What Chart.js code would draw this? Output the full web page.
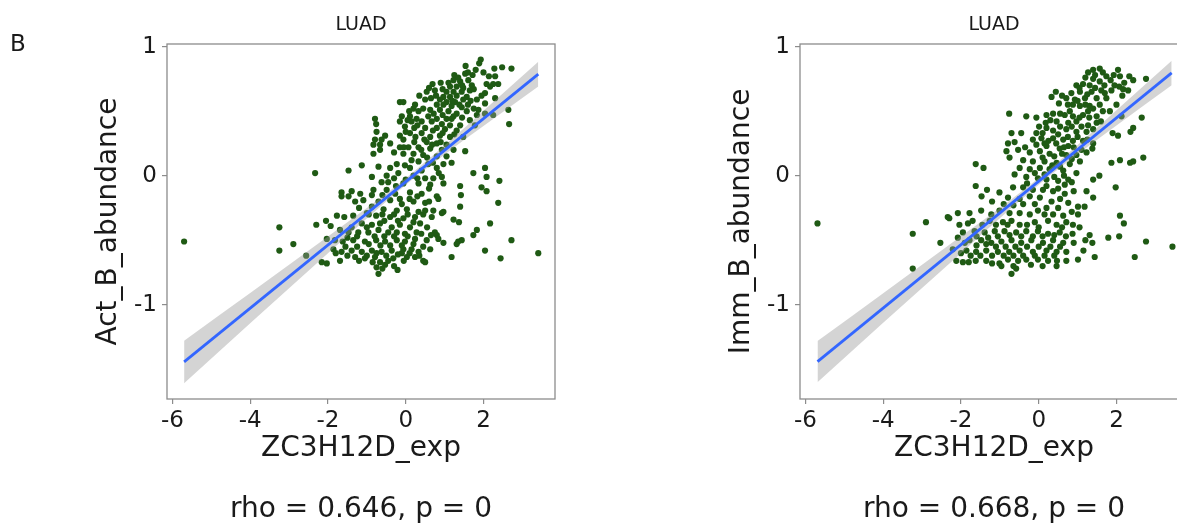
<!DOCTYPE html>
<html><head><meta charset="utf-8">
<script src="https://cdn.jsdelivr.net/npm/chart.js@4.4.1/dist/chart.umd.min.js"></script>
<style>
html,body{margin:0;padding:0;background:#fff;}
body{width:1177px;height:525px;overflow:hidden;position:relative;font-family:'DejaVu Sans',sans-serif;color:#1a1a1a;}
.panel{position:absolute;top:0;width:633px;height:525px;}
.txt{position:absolute;white-space:nowrap;transform:translate(-50%,-50%);line-height:1;}
</style></head><body>
<div class="panel" style="left:0"><canvas id="c1"></canvas></div>
<div class="panel" style="left:633px"><canvas id="c2"></canvas></div>
<div id="texts"></div>
<script>
// ---------------- data ----------------
const panelLabel = 'B';
const panelTitles = ['LUAD', 'LUAD'];
const xTitle = 'ZC3H12D_exp';
const yTitles = ['Act_B_abundance', 'Imm_B_abundance'];
const statTexts = ['rho = 0.646, p = 0', 'rho = 0.668, p = 0'];
const xTicks = [-6, -4, -2, 0, 2];
const yTicks = [-1, 0, 1];

// Act_B_abundance vs ZC3H12D_exp
const actPoints = [
[-5.70,-0.51],[-3.25,-0.40],[-3.25,-0.58],[-2.89,-0.53],[-2.56,-0.62],[-2.33,0.02],[-2.30,-0.38],[-2.05,-0.35],[-1.93,-0.39],
[1.93,0.90],[1.89,0.87],[1.54,0.85],[2.48,0.84],[2.72,0.83],[2.28,0.83],[1.25,0.78],[1.53,0.79],[1.72,0.78],[2.00,0.80],[2.14,0.77],[2.30,0.77],
[1.23,0.74],[1.40,0.73],[1.61,0.74],[2.08,0.71],[2.25,0.71],[2.38,0.71],[0.90,0.72],[0.69,0.71],[1.14,0.69],[1.31,0.69],[1.48,0.68],[1.70,0.70],[2.17,0.69],
[0.54,0.65],[1.05,0.65],[1.23,0.65],[1.44,0.65],[1.65,0.66],[2.04,0.64],[0.97,0.61],[1.14,0.61],[1.31,0.62],[1.57,0.61],[1.83,0.59],[2.30,0.60],
[0.35,0.62],[0.50,0.59],[0.88,0.59],[1.05,0.57],[1.27,0.57],[1.48,0.59],[1.67,0.58],[-0.15,0.57],[-0.06,0.57],[0.24,0.55],[0.80,0.55],[0.97,0.55],
[1.18,0.54],[1.44,0.53],[2.04,0.56],[1.87,0.51],[0.09,0.50],[0.33,0.50],[0.63,0.51],[0.88,0.51],[1.10,0.50],[1.31,0.48],[1.57,0.50],[1.83,0.47],
[2.04,0.48],[2.64,0.51],[2.25,0.47],[-0.10,0.46],[0.11,0.46],[0.28,0.44],[0.58,0.46],[0.80,0.44],[1.05,0.44],[1.23,0.46],[-0.79,0.44],[-0.76,0.40],
[-0.15,0.42],[0.15,0.42],[0.41,0.42],[0.67,0.42],[0.93,0.40],[1.14,0.39],[1.40,0.39],[1.78,0.39],[2.66,0.40],[-0.02,0.38],[0.22,0.37],[0.80,0.37],
[1.01,0.36],[1.31,0.35],[-0.75,0.34],[-0.53,0.31],[-0.15,0.31],[0.11,0.33],[0.41,0.33],[0.63,0.30],[0.88,0.31],[1.14,0.30],[1.48,0.30],[-0.79,0.28],
[-0.62,0.28],[-0.06,0.28],[0.22,0.26],[0.54,0.26],[0.80,0.25],[1.05,0.24],[-0.66,0.24],[-0.83,0.24],[-0.15,0.22],[0.07,0.22],[0.33,0.22],[0.63,0.21],
[0.93,0.20],[1.23,0.20],[1.53,0.19],[-0.66,0.20],[-0.83,0.17],[-0.06,0.17],[0.20,0.17],[0.45,0.16],[0.80,0.15],[1.05,0.15],[-0.23,0.09],[-0.02,0.08],
[0.33,0.11],[0.58,0.09],[0.97,0.09],[1.18,0.10],[-1.13,0.08],[-0.70,0.07],[-0.40,0.06],[0.11,0.06],[0.41,0.04],[0.80,0.06],[-1.47,0.04],[-0.87,-0.01],
[-0.49,0.00],[-0.19,0.02],[0.20,0.00],[0.50,-0.02],[0.71,-0.02],[0.93,-0.01],[1.74,0.02],[2.04,0.06],[2.08,-0.01],[2.41,-0.04],[-0.62,-0.05],[-0.45,-0.05],
[-0.06,-0.06],[0.33,-0.06],[0.63,-0.07],[0.97,-0.06],[1.40,-0.08],[1.95,-0.09],[2.08,-0.12],[-0.83,-0.11],[-1.65,-0.13],[-1.39,-0.12],[-1.17,-0.14],
[-0.87,-0.15],[-0.49,-0.11],[-0.27,-0.14],[0.11,-0.13],[0.41,-0.14],[0.80,-0.16],[0.84,-0.18],[1.42,-0.15],[-1.65,-0.16],[-1.47,-0.16],[-1.09,-0.19],
[-0.70,-0.20],[-0.40,-0.19],[-0.10,-0.22],[0.20,-0.20],[0.50,-0.21],[1.40,-0.24],[2.38,-0.21],[-0.87,-0.24],[-0.57,-0.26],[-0.23,-0.27],[0.03,-0.26],
[0.33,-0.28],[0.71,-0.27],[0.93,-0.29],[0.97,-0.28],[-1.77,-0.31],[-1.35,-0.31],[-1.00,-0.29],[-0.76,-0.31],[-0.40,-0.32],[-0.06,-0.33],[0.24,-0.32],
[0.67,-0.32],[1.23,-0.34],[-1.58,-0.32],[-1.39,-0.40],[-1.13,-0.37],[-0.87,-0.38],[-0.66,-0.37],[-0.36,-0.40],[-0.15,-0.38],[0.11,-0.40],[0.37,-0.37],
[2.17,-0.37],[1.37,-0.36],[-1.69,-0.42],[-1.47,-0.44],[-1.22,-0.44],[-0.96,-0.44],[-0.70,-0.42],[-0.45,-0.44],[-0.23,-0.44],[-0.02,-0.45],[0.28,-0.44],
[0.75,-0.44],[0.80,-0.46],[1.83,-0.42],[1.74,-0.46],[-2.03,-0.49],[-1.82,-0.50],[-1.62,-0.51],[-1.35,-0.50],[-1.05,-0.51],[-0.76,-0.50],[-0.53,-0.51],
[-0.23,-0.50],[-0.02,-0.51],[0.24,-0.49],[0.54,-0.50],[0.84,-0.49],[0.97,-0.52],[1.35,-0.51],[1.44,-0.50],[2.72,-0.50],[-1.86,-0.57],[-1.65,-0.59],
[-1.39,-0.58],[-1.13,-0.59],[-0.87,-0.58],[-0.62,-0.59],[-0.36,-0.58],[-0.06,-0.57],[0.15,-0.57],[0.33,-0.59],[0.63,-0.57],[1.31,-0.53],[2.04,-0.58],
[3.41,-0.60],[-2.16,-0.67],[-2.03,-0.68],[-1.69,-0.66],[-1.30,-0.63],[-1.05,-0.64],[-0.79,-0.63],[-0.66,-0.67],[-0.32,-0.64],[-0.10,-0.60],[0.03,-0.63],
[0.24,-0.63],[0.45,-0.66],[0.50,-0.67],[1.18,-0.63],[2.44,-0.64],[-0.75,-0.71],[-0.53,-0.69],[-0.70,-0.76],[-0.21,-0.73],
[0.60,0.68],[0.75,0.66],[0.95,0.67],[1.10,0.72],[1.35,0.76],[1.60,0.80],[1.80,0.82],[1.45,0.70],[1.75,0.67],[1.95,0.62],[0.65,0.60],[0.78,0.62],
[1.20,0.58],[1.38,0.55],[1.60,0.55],[1.75,0.52],[0.45,0.52],[0.72,0.48],[0.95,0.47],[1.18,0.44],[1.45,0.45],[1.65,0.43],[0.20,0.52],[0.05,0.43],
[0.30,0.39],[0.50,0.37],[0.70,0.35],[0.95,0.33],[1.25,0.32],[0.00,0.34],[0.25,0.30],[0.48,0.28],[0.68,0.24],[0.90,0.26],[-0.05,0.22],[0.40,0.20],
[0.15,0.12],[0.55,0.14],[0.70,0.10],[-0.30,0.18],[-0.40,0.25],[0.85,0.02],[0.30,-0.02],[-0.30,-0.02],[0.00,-0.03],
[-0.95,-0.30],[-0.60,-0.30],[-0.30,-0.30],[0.05,-0.30],[0.45,-0.30],[-1.20,-0.25],[-0.55,-0.35],[-0.20,-0.35],[0.20,-0.36],[0.55,-0.40],[-1.00,-0.40],
[-0.80,-0.47],[-0.55,-0.47],[-0.30,-0.47],[0.05,-0.47],[0.40,-0.45],[0.65,-0.46],[-1.25,-0.47],[-1.50,-0.48],[-0.95,-0.53],[-0.65,-0.54],[-0.40,-0.54],
[-0.10,-0.54],[0.20,-0.53],[0.45,-0.55],[-1.25,-0.55],[-1.55,-0.55],[-1.80,-0.60],[-0.75,-0.60],[-0.50,-0.62],[-0.20,-0.61],[0.10,-0.60],[-1.00,-0.62],
[-0.85,-0.67],[-0.45,-0.66],[-0.60,-0.72],[-0.30,-0.70],[-1.20,-0.66],[-1.50,-0.62],[-0.05,-0.66],[0.35,-0.62],[-0.15,-0.18],[0.30,-0.16],[0.60,-0.20],
[-0.60,-0.15],[-1.30,-0.20],[0.60,-0.10],[-0.25,-0.08],[0.10,-0.18],[0.50,-0.27]
];
const actFitX = [-5.70, 3.41];
const actFitY = [-1.443, 0.787];
const actBandX  = [-5.70, -4.00, -2.00, -1.00, 0.00, 1.00, 2.00, 3.41];
const actBandHi = [-1.278, -0.909, -0.472, -0.251, -0.020, 0.235, 0.503, 0.883];
const actBandLo = [-1.608, -1.144, -0.600, -0.331, -0.072, 0.164, 0.385, 0.691];

// Imm_B_abundance vs ZC3H12D_exp
const immPoints = [
[-5.69,-0.37],[-3.24,-0.45],[-3.24,-0.72],
[1.40,0.82],[1.57,0.83],[1.27,0.80],[2.04,0.82],[1.74,0.77],[1.93,0.78],[2.09,0.77],[2.33,0.77],[2.76,0.75],[2.43,0.74],[1.40,0.75],[1.57,0.73],
[1.14,0.71],[0.97,0.70],[1.31,0.70],[1.69,0.70],[2.07,0.69],[2.17,0.67],[2.30,0.66],[1.61,0.66],[1.87,0.66],[0.44,0.65],[0.84,0.64],[1.06,0.65],
[1.36,0.65],[0.33,0.61],[0.71,0.60],[0.93,0.59],[1.19,0.60],[1.49,0.60],[1.74,0.60],[0.52,0.56],[0.88,0.55],[1.06,0.54],[1.31,0.54],[1.57,0.55],
[1.83,0.50],[1.27,0.50],[-0.76,0.48],[-0.32,0.46],[-0.06,0.45],[0.20,0.47],[0.37,0.48],[0.67,0.47],[0.88,0.46],[1.14,0.47],[1.49,0.46],[2.13,0.46],
[2.65,0.45],[0.18,0.41],[0.46,0.42],[0.76,0.41],[0.97,0.42],[1.27,0.39],[1.49,0.41],[0.01,0.38],[0.20,0.37],[0.37,0.35],[0.71,0.36],[0.97,0.34],
[1.23,0.34],[1.90,0.33],[2.04,0.31],[2.43,0.37],[2.36,0.34],[-0.70,0.33],[-0.45,0.33],[-0.06,0.33],[0.07,0.29],[0.37,0.29],[0.63,0.28],[0.88,0.27],
[1.14,0.27],[1.40,0.25],[-0.79,0.25],[-0.62,0.26],[-0.06,0.24],[0.20,0.23],[0.54,0.21],[0.76,0.23],[1.38,0.21],[-0.83,0.19],[-0.53,0.20],[-0.23,0.18],
[0.03,0.19],[0.28,0.17],[0.71,0.16],[0.97,0.16],[1.23,0.18],[2.69,0.14],[2.43,0.11],[2.35,0.10],[2.09,0.12],[1.87,0.10],[-1.62,0.09],[-1.42,0.06],
[-0.75,0.14],[-0.40,0.12],[-0.15,0.11],[0.15,0.11],[0.46,0.10],[0.80,0.09],[1.06,0.11],[-0.49,0.06],[-0.23,0.05],[0.03,0.06],[0.28,0.05],[0.63,0.04],
[0.97,0.02],[1.40,-0.03],[1.56,0.00],[-0.62,0.01],[-0.32,-0.01],[-0.02,-0.02],[0.20,-0.03],[0.50,-0.04],[0.76,-0.03],[-1.62,-0.08],[-1.33,-0.11],
[-1.47,-0.16],[-1.01,-0.13],[-0.66,-0.09],[-0.40,-0.09],[-0.15,-0.11],[0.11,-0.11],[0.37,-0.12],[0.67,-0.07],[0.67,-0.14],[1.23,-0.12],[1.40,-0.17],
[1.98,-0.09],[-0.79,-0.17],[-0.49,-0.18],[-0.23,-0.16],[0.03,-0.17],[0.33,-0.20],[0.76,-0.21],[1.01,-0.24],[1.18,-0.24],[-2.08,-0.29],[-2.34,-0.32],
[-2.30,-0.33],[-1.78,-0.29],[-1.48,-0.27],[-1.22,-0.30],[-1.01,-0.27],[-0.75,-0.29],[-0.49,-0.29],[-0.23,-0.30],[-0.02,-0.27],[0.15,-0.30],[0.37,-0.30],
[0.63,-0.31],[1.01,-0.30],[2.09,-0.31],[-2.90,-0.36],[-2.04,-0.38],[-1.82,-0.37],[-1.26,-0.35],[-0.92,-0.36],[-0.70,-0.35],[-0.49,-0.38],[-0.10,-0.36],
[0.24,-0.35],[0.46,-0.38],[0.71,-0.36],[0.88,-0.38],[2.19,-0.37],[-1.95,-0.44],[-1.65,-0.43],[-1.39,-0.44],[-1.13,-0.43],[-0.88,-0.43],[-0.58,-0.44],
[-0.32,-0.43],[-0.02,-0.43],[0.24,-0.45],[0.54,-0.44],[0.87,-0.45],[1.31,-0.46],[1.79,-0.48],[2.07,-0.47],[-2.53,-0.52],[-2.08,-0.48],[-1.78,-0.50],
[-1.48,-0.50],[-1.22,-0.52],[-0.96,-0.51],[-0.70,-0.50],[-0.45,-0.52],[-0.19,-0.50],[0.11,-0.52],[0.37,-0.50],[0.63,-0.52],[1.38,-0.52],[2.76,-0.51],
[3.44,-0.55],[-2.21,-0.57],[-1.86,-0.58],[-1.61,-0.59],[-1.35,-0.58],[-1.05,-0.59],[-0.76,-0.59],[-0.49,-0.58],[-0.15,-0.59],[0.20,-0.58],[0.46,-0.59],
[0.71,-0.59],[1.01,-0.65],[1.44,-0.63],[2.47,-0.63],[-2.12,-0.66],[-1.95,-0.67],[-1.62,-0.66],[-1.35,-0.66],[-1.01,-0.68],[-0.79,-0.65],[-0.53,-0.66],
[-0.32,-0.65],[-0.02,-0.65],[0.24,-0.66],[0.47,-0.66],[0.71,-0.66],[-0.96,-0.70],[-0.58,-0.72],[0.46,-0.70],[-0.70,-0.76],
[1.45,0.78],[1.65,0.80],[1.85,0.74],[2.20,0.72],[1.20,0.76],[1.05,0.68],[1.25,0.63],[1.45,0.68],[1.70,0.64],[1.95,0.70],[2.15,0.62],[0.60,0.62],
[0.75,0.55],[1.00,0.58],[1.20,0.55],[1.40,0.52],[1.65,0.50],[2.00,0.55],[0.55,0.48],[0.80,0.50],[1.05,0.45],[1.30,0.45],[1.60,0.42],[0.30,0.43],
[0.55,0.38],[0.85,0.38],[1.10,0.38],[1.40,0.36],[0.10,0.33],[0.50,0.32],[0.75,0.30],[1.00,0.30],[1.25,0.28],[0.25,0.27],[0.45,0.25],[0.65,0.22],
[0.90,0.22],[1.10,0.20],[-0.15,0.28],[0.15,0.25],[0.40,0.15],[0.60,0.17],[0.85,0.13],[-0.35,0.22],[0.10,0.14],[0.35,0.08],[0.55,0.07],[-0.10,0.02],
[0.15,0.01],[0.40,-0.01],[0.65,0.00],[0.85,-0.05],[0.20,-0.08],[0.50,-0.10],[0.90,-0.12],[-0.30,-0.06],
[-1.70,-0.35],[-1.45,-0.38],[-1.10,-0.38],[-0.80,-0.38],[-0.30,-0.38],[0.00,-0.40],[0.60,-0.40],[-1.60,-0.47],[-1.30,-0.48],[-1.05,-0.47],[-0.75,-0.46],
[-0.45,-0.47],[-0.15,-0.47],[0.10,-0.47],[0.40,-0.46],[0.70,-0.47],[-1.90,-0.52],[-1.60,-0.54],[-1.35,-0.53],[-1.10,-0.55],[-0.85,-0.55],[-0.60,-0.55],
[-0.30,-0.55],[0.00,-0.55],[0.30,-0.55],[0.55,-0.55],[-2.00,-0.60],[-1.75,-0.62],[-1.50,-0.62],[-1.20,-0.62],[-0.90,-0.62],[-0.65,-0.62],[-0.40,-0.62],
[-0.10,-0.62],[0.15,-0.62],[0.40,-0.62],[-1.80,-0.67],[-1.20,-0.68],[-0.65,-0.70],[-0.20,-0.69],[0.10,-0.70],[-0.40,-0.22],[-0.10,-0.22],[0.20,-0.25],
[0.50,-0.25],[-0.65,-0.23],[-1.20,-0.20],[-0.90,-0.22],[0.55,-0.18],[0.85,-0.28],[1.05,-0.40],[1.20,-0.50],[1.15,-0.58],[0.90,-0.52]
];
const immFitX = [-5.69, 3.42];
const immFitY = [-1.440, 0.796];
const immBandX  = [-5.69, -4.00, -2.00, -1.00, 0.00, 1.00, 2.00, 3.42];
const immBandHi = [-1.280, -0.910, -0.470, -0.250, -0.018, 0.238, 0.506, 0.890];
const immBandLo = [-1.600, -1.140, -0.600, -0.330, -0.070, 0.166, 0.388, 0.700];

// ---------------- drawing ----------------
Chart.defaults.font.family = "'DejaVu Sans', sans-serif";
Chart.defaults.color = '#1a1a1a';
const axisGray = '#8c8c8c';

const framePlugin = {
  id: 'frame',
  afterDatasetsDraw(chart) {
    const {ctx, chartArea: a} = chart;
    ctx.save();
    ctx.strokeStyle = axisGray;
    ctx.lineWidth = 1.3;
    ctx.strokeRect(a.left, a.top, a.right - a.left, a.bottom - a.top);
    ctx.restore();
  }
};

const xy = (xs, ys) => xs.map((x, i) => ({x: x, y: ys[i]}));

function makeChart(id, points, fitX, fitY, bandX, bandHi, bandLo, yTitle) {
  return new Chart(document.getElementById(id), {
    type: 'scatter',
    data: {
      datasets: [
        {type: 'line', data: xy(fitX, fitY), borderColor: '#3366ff', borderWidth: 2.8,
         pointRadius: 0, fill: false, order: 0},
        {type: 'line', data: xy(bandX, bandHi), borderColor: 'rgba(0,0,0,0)', borderWidth: 0,
         pointRadius: 0, fill: '+1', backgroundColor: 'rgba(153,153,153,0.42)',
         cubicInterpolationMode: 'monotone', order: 1},
        {type: 'line', data: xy(bandX, bandLo), borderColor: 'rgba(0,0,0,0)', borderWidth: 0,
         pointRadius: 0, fill: false, cubicInterpolationMode: 'monotone', order: 1},
        {type: 'scatter', data: points.map(p => ({x: p[0], y: p[1]})),
         backgroundColor: '#1f5a14', borderWidth: 0, pointRadius: 3.1, order: 2}
      ]
    },
    options: {
      responsive: true, maintainAspectRatio: false, devicePixelRatio: 1, animation: false,
      layout: {padding: {left: 0, top: 44, right: 78, bottom: 0}},
      plugins: {legend: {display: false}, tooltip: {enabled: false}, title: {display: false}},
      scales: {
        x: {
          type: 'linear', min: -6.14, max: 3.84,
          afterBuildTicks: s => { s.ticks = xTicks.map(v => ({value: v})); },
          afterFit: s => { s.height = 126; },
          grid: {drawOnChartArea: false, drawTicks: true, tickLength: 5, color: axisGray, lineWidth: 1.2},
          border: {display: false},
          ticks: {font: {size: 23}, color: '#1a1a1a', padding: 3, maxRotation: 0, autoSkip: false,
                  callback: v => String(v)},
          title: {display: true, text: xTitle, font: {size: 28}, color: '#1a1a1a', padding: {top: 0, bottom: 59}}
        },
        y: {
          type: 'linear', min: -1.73, max: 1.02,
          afterBuildTicks: s => { s.ticks = yTicks.map(v => ({value: v})); },
          afterFit: s => { s.width = 167; },
          grid: {drawOnChartArea: false, drawTicks: true, tickLength: 5, color: axisGray, lineWidth: 1.2},
          border: {display: false},
          ticks: {font: {size: 23}, color: '#1a1a1a', padding: 5, autoSkip: false,
                  callback: v => String(v)},
          title: {display: true, text: yTitle, font: {size: 28}, color: '#1a1a1a', padding: {top: 92, bottom: 0}}
        }
      }
    },
    plugins: [framePlugin]
  });
}

makeChart('c1', actPoints, actFitX, actFitY, actBandX, actBandHi, actBandLo, yTitles[0]);
makeChart('c2', immPoints, immFitX, immFitY, immBandX, immBandHi, immBandLo, yTitles[1]);

// ---------------- text labels ----------------
const texts = document.getElementById('texts');
function addText(str, cx, cy, size) {
  const d = document.createElement('div');
  d.className = 'txt';
  d.textContent = str;
  d.style.left = cx + 'px';
  d.style.top = cy + 'px';
  d.style.fontSize = size + 'px';
  texts.appendChild(d);
}
addText(panelLabel, 18, 43, 23);
addText(panelTitles[0], 361, 23, 19);
addText(panelTitles[1], 994, 23, 19);
addText(statTexts[0], 361, 508, 28);
addText(statTexts[1], 994, 508, 28);
</script>
</body></html>
